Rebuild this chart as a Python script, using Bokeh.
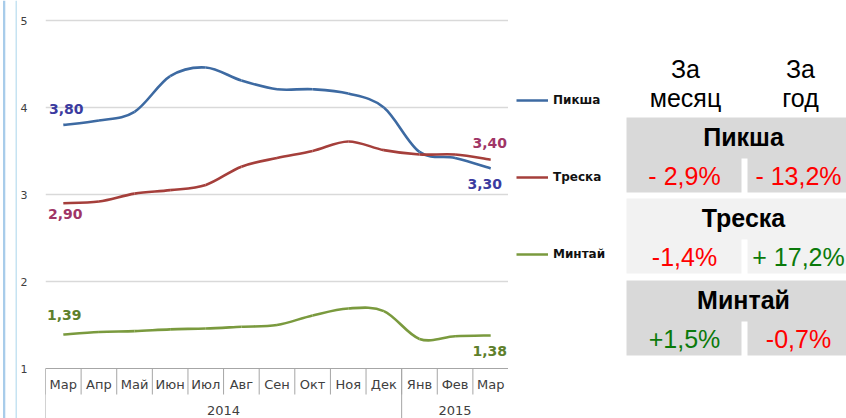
from bokeh.plotting import figure
from bokeh.models import FactorRange, Range1d, FixedTicker, Legend, LegendItem
from bokeh.layouts import row
from bokeh.core.properties import value
from bokeh.embed import file_html
from bokeh.resources import INLINE

# ---------------- data ----------------
years = ["2014"] * 10 + ["2015"] * 3
months = ["Мар", "Апр", "Май", "Июн", "Июл", "Авг", "Сен", "Окт", "Ноя", "Дек", "Янв", "Фев", "Мар"]
year_labels = ["2014", "2015"]

haddock = [3.80, 3.85, 3.95, 4.36, 4.46, 4.31, 4.21, 4.21, 4.16, 4.00, 3.49, 3.42, 3.30]   # Пикша
cod     = [2.90, 2.92, 3.01, 3.05, 3.11, 3.32, 3.42, 3.50, 3.61, 3.51, 3.46, 3.46, 3.40]   # Треска
pollock = [1.39, 1.42, 1.43, 1.45, 1.46, 1.48, 1.50, 1.61, 1.69, 1.66, 1.34, 1.37, 1.38]   # Минтай
series_names = ["Пикша", "Треска", "Минтай"]
y_ticks = [1, 2, 3, 4, 5]

table_rows = ["Пикша", "Треска", "Минтай"]
col_headers = ["За\nмесяц", "За\nгод"]
month_change = ["- 2,9%", "-1,4%", "+1,5%"]
year_change = ["- 13,2%", "+ 17,2%", "-0,7%"]

# ---------------- styles ----------------
line_colors = ["#3D6AA2", "#A53F3B", "#7A9A3E"]
label_colors = ["#3B3BA0", "#A03566", "#5E802C"]
FONT = "DejaVu Sans"
TFONT = "Liberation Sans"
H = 418

# ---------------- left decorative strip ----------------
s = figure(width=17, height=H, x_range=Range1d(0, 17), y_range=Range1d(0, H),
           x_axis_location=None, y_axis_location=None, output_backend="svg",
           toolbar_location=None, min_border=0)
s.outline_line_color = None
s.grid.visible = False
s.quad(left=[2.5, 15], right=[4.8, 17], bottom=[0, 0], top=[H, H],
       fill_color=["#A8CCEA", "#C6E3F2"], line_color=None)

# ---------------- chart ----------------
factors = list(zip(years, months))
x_range = FactorRange(*factors, factor_padding=0, group_padding=0, range_padding=0)

PX_PER_UNIT = 87.0
y_lo = y_ticks[0] - 50 / PX_PER_UNIT
y_hi = y_ticks[-1] + 20 / PX_PER_UNIT

p = figure(width=491, height=H, x_range=x_range, y_range=Range1d(y_lo, y_hi),
           x_axis_location=None, output_backend="svg", toolbar_location=None,
           min_border_left=26, min_border_right=0, min_border_top=0, min_border_bottom=0)
p.outline_line_color = None
p.xgrid.visible = False
p.ygrid.ticker = FixedTicker(ticks=y_ticks[1:])
p.ygrid.grid_line_color = "#D9D9D9"
p.ygrid.grid_line_width = 1.5

ax = p.yaxis[0]
ax.ticker = FixedTicker(ticks=y_ticks)
ax.axis_line_color = None
ax.major_tick_line_color = None
ax.minor_tick_line_color = None
ax.major_tick_out = 0
ax.major_tick_in = 0
ax.major_label_standoff = 18
ax.major_label_text_font = FONT
ax.major_label_text_font_size = "11px"
ax.major_label_text_color = "#404040"

# category axis box
gray = "#A6A6A6"
first = (*factors[0], -0.5)
last = (*factors[-1], 0.5)
p.segment(x0=[first], y0=[y_ticks[0]], x1=[last], y1=[y_ticks[0]], line_color=gray, line_width=1)
sep_y = y_ticks[0] - 26 / PX_PER_UNIT
sep_x = [(*f, -0.5) for f in factors] + [last]
p.segment(x0=sep_x, y0=[y_ticks[0]] * len(sep_x), x1=sep_x, y1=[sep_y] * len(sep_x),
          line_color=gray, line_width=1)
grp_x = [first]
for i in range(1, len(factors)):
    if factors[i][0] != factors[i - 1][0]:
        grp_x.append((*factors[i], -0.5))
grp_x.append(last)
p.segment(x0=grp_x, y0=[y_ticks[0]] * len(grp_x), x1=grp_x, y1=[y_lo] * len(grp_x),
          line_color=gray, line_width=1)

p.text(x=factors, y=[y_ticks[0] - 16 / PX_PER_UNIT] * len(factors), text=months,
       text_font=value(FONT), text_font_size="13px", text_color="#404040",
       text_align="center", text_baseline="middle")
p.text(x=year_labels, y=[y_ticks[0] - 42 / PX_PER_UNIT] * len(year_labels), text=year_labels,
       text_font=value(FONT), text_font_size="13px", text_color="#404040",
       text_align="center", text_baseline="middle")

# smoothed lines (Bezier segments through the data points)
def smooth(vals):
    n = len(vals)
    d = dict(x0=[], y0=[], x1=[], y1=[], cx0=[], cy0=[], cx1=[], cy1=[])
    for i in range(n - 1):
        a = max(i - 1, 0)
        b = min(i + 2, n - 1)
        d["x0"].append(factors[i]); d["y0"].append(vals[i])
        d["x1"].append(factors[i + 1]); d["y1"].append(vals[i + 1])
        d["cx0"].append((*factors[i], (i + 1 - a) / 6.0))
        d["cy0"].append(vals[i] + (vals[i + 1] - vals[a]) / 6.0)
        d["cx1"].append((*factors[i + 1], -(b - i) / 6.0))
        d["cy1"].append(vals[i + 1] - (vals[b] - vals[i]) / 6.0)
    return d

for vals, col in zip([haddock, cod, pollock], line_colors):
    p.bezier(line_color=col, line_width=2.6, **smooth(vals))

def fmt(v):
    return f"{v:.2f}".replace(".", ",")

offs = [((3, -16), (-6, 16)), ((2, 11), (-1, -17)), ((1, -20), (-1, 16))]
for vals, col, (o_first, o_last) in zip([haddock, cod, pollock], label_colors, offs):
    for idx, (dx, dy) in [(0, o_first), (len(vals) - 1, o_last)]:
        p.text(x=[factors[idx]], y=[vals[idx]], text=[fmt(vals[idx])],
               x_offset=dx, y_offset=dy, text_font=value(FONT), text_font_size="14px",
               text_font_style="bold", text_color=col, text_align="center",
               text_baseline="middle")

# ---------------- legend + table ----------------
X0 = 508
t = figure(width=846 - X0, height=H, x_range=Range1d(X0, 846), y_range=Range1d(H, 0),
           x_axis_location=None, y_axis_location=None, output_backend="svg",
           toolbar_location=None, min_border=0)
t.outline_line_color = None
t.grid.visible = False

nan = float("nan")
leg_r = [t.line(x=[nan], y=[nan], line_color=c, line_width=2.6) for c in line_colors]
legend = Legend(items=[LegendItem(label=n, renderers=[r]) for n, r in zip(series_names, leg_r)],
                location=(8, 154), orientation="vertical", spacing=57, padding=0, margin=0,
                glyph_width=32, glyph_height=20, label_height=20, label_standoff=5,
                label_text_font=FONT, label_text_font_size="12px", label_text_font_style="bold",
                label_text_color="#111111", border_line_color=None, background_fill_alpha=0)
t.add_layout(legend)

box_tops = [117, 198, 280]
box_h = 75
box_fill = ["#D9D9D9", "#F2F2F2", "#D9D9D9"]
t.quad(left=[626] * 3, right=[850] * 3, top=box_tops, bottom=[b + box_h for b in box_tops],
       fill_color=box_fill, line_color=None)
t.quad(left=[741] * 3, right=[747] * 3, top=[b + 41 for b in box_tops],
       bottom=[b + box_h + 1 for b in box_tops], fill_color="white", line_color=None)

col_x = [685, 800]
for cx, h in zip(col_x, col_headers):
    lines = h.split("\n")
    t.text(x=[cx] * len(lines), y=[68 + 29 * k for k in range(len(lines))], text=lines,
           text_font=value(TFONT), text_font_size="25px", text_color="black",
           text_align="center", text_baseline="middle")

t.text(x=[743] * 3, y=[b + 19 for b in box_tops], text=table_rows,
       text_font=value(TFONT), text_font_size="25px", text_font_style="bold",
       text_color="black", text_align="center", text_baseline="middle")

def sign_color(v):
    return "#FF0000" if v.strip().startswith("-") else "#0B7A0B"

t.text(x=[684] * 3, y=[b + 58 for b in box_tops], text=month_change,
       text_font=value(TFONT), text_font_size="25px",
       text_color=[sign_color(v) for v in month_change],
       text_align="center", text_baseline="middle")
t.text(x=[798] * 3, y=[b + 58 for b in box_tops], text=year_change,
       text_font=value(TFONT), text_font_size="25px",
       text_color=[sign_color(v) for v in year_change],
       text_align="center", text_baseline="middle")

layout = row(s, p, t)
open("out.html", "w").write(file_html(layout, INLINE))
